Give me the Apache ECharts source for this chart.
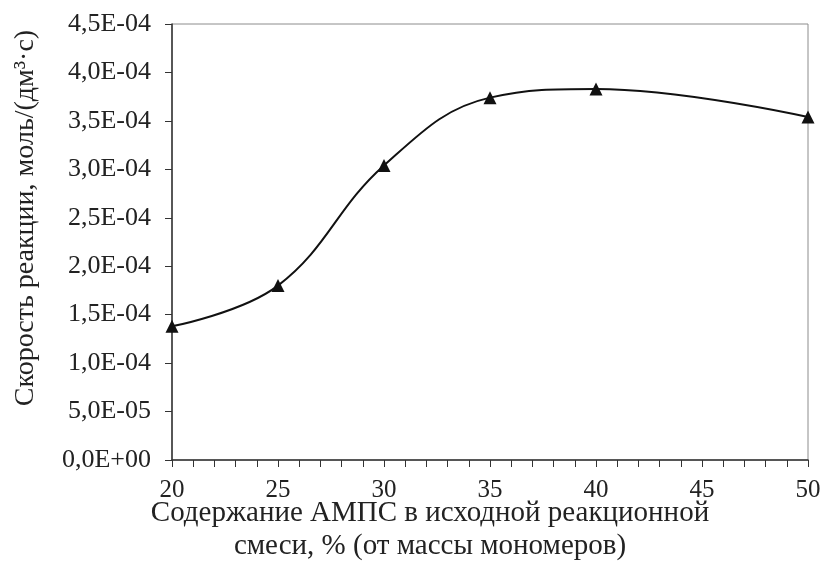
<!DOCTYPE html>
<html>
<head>
<meta charset="utf-8">
<script src="https://cdn.jsdelivr.net/npm/echarts@6/dist/echarts.min.js"></script>
<style>
  html, body { margin: 0; padding: 0; background: #fff; }
  #chart { width: 823px; height: 564px; }
</style>
</head>
<body>
<div id="chart"></div>
<script>
// содержание АМПС, %
const amps = [20, 25, 30, 35, 40, 50];
// скорость реакции, моль/(дм3·с)
const rate = [1.38e-4, 1.80e-4, 3.04e-4, 3.74e-4, 3.83e-4, 3.54e-4];

const yTitle = 'Скорость реакции, моль/(дм³·с)';
const xTitle = 'Содержание АМПС в исходной реакционной\nсмеси, % (от массы мономеров)';

const FONT = '"Liberation Serif", "Times New Roman", serif';

// 4,5E-04 style labels
function sciLabel(v) {
    if (v === 0) return '0,0E+00';
    let exp = Math.floor(Math.log10(Math.abs(v)) + 1e-9);
    let mant = v / Math.pow(10, exp);
    if (Math.round(mant * 10) / 10 >= 10) { mant /= 10; exp += 1; }
    const sign = exp < 0 ? '-' : '+';
    const e = String(Math.abs(exp)).padStart(2, '0');
    return mant.toFixed(1).replace('.', ',') + 'E' + sign + e;
}

const chart = echarts.init(document.getElementById('chart'));

const option = {
    animation: false,
    grid: {
        left: 172,
        right: 15,
        top: 24,
        bottom: 104,
        outerBoundsMode: 'none',
        show: true,
        borderColor: '#8c8c8c',
        borderWidth: 1
    },
    xAxis: {
        type: 'value',
        min: 20,
        max: 50,
        interval: 1,
        name: xTitle,
        nameLocation: 'middle',
        nameGap: 37,
        nameMoveOverlap: false,
        nameTextStyle: {
            fontFamily: FONT,
            fontSize: 29,
            color: '#222',
            lineHeight: 33,
            verticalAlign: 'top',
            padding: [0, 120, 0, 0]
        },
        axisLine: { lineStyle: { color: '#333', width: 1.5 } },
        axisTick: { show: true, inside: false, length: 7, lineStyle: { color: '#333' } },
        axisLabel: {
            fontFamily: FONT,
            fontSize: 25,
            color: '#222',
            margin: 18,
            formatter: v => (v % 5 === 0 ? String(v) : '')
        },
        splitLine: { show: false }
    },
    yAxis: {
        type: 'value',
        min: 0,
        max: 4.5e-4,
        interval: 0.5e-4,
        name: yTitle,
        nameLocation: 'middle',
        nameGap: 132,
        nameMoveOverlap: false,
        nameTextStyle: {
            fontFamily: FONT,
            fontSize: 28,
            color: '#222',
            padding: [0, 0, 0, 48]
        },
        axisLine: { show: true, lineStyle: { color: '#333', width: 1.5 } },
        axisTick: { show: true, inside: false, length: 7, lineStyle: { color: '#333' } },
        axisLabel: {
            fontFamily: FONT,
            fontSize: 26,
            color: '#222',
            margin: 21,
            formatter: sciLabel
        },
        splitLine: { show: false }
    },
    series: [
        {
            type: 'line',
            data: amps.map((x, i) => [x, rate[i]]),
            smooth: 0.4,
            symbol: 'triangle',
            symbolSize: 13,
            itemStyle: { color: '#111' },
            lineStyle: { color: '#111', width: 2 }
        }
    ]
};

chart.setOption(option);
</script>
</body>
</html>
